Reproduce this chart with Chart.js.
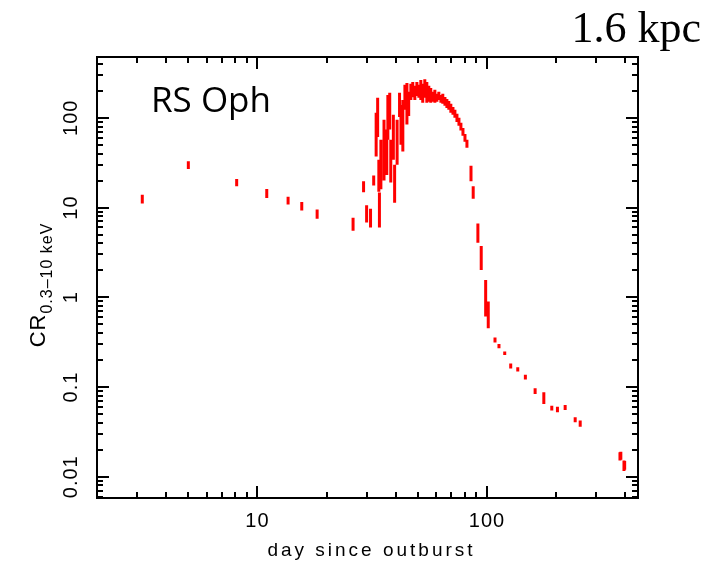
<!DOCTYPE html>
<html>
<head>
<meta charset="utf-8">
<script src="https://cdn.jsdelivr.net/npm/chart.js@4.4.1/dist/chart.umd.min.js"></script>
<style>
  body { margin: 0; background: #fff; }
</style>
</head>
<body>
<canvas id="myChart" width="721" height="563"></canvas>
<script>
// each observation is drawn as a vertical bar from crLo to crHi
var day = [3.15, 5.0, 8.12, 10.98, 13.6, 15.6, 18.2, 26.1, 29.0, 29.9, 31.1, 32.1,
  32.9, 33.4, 33.8, 34.0, 34.5, 35.6, 36.6, 37.0, 37.7, 38.1, 39.1, 39.6, 40.6, 41.6, 42.2, 43.0, 43.9, 44.8,
  45.6, 46.6, 47.5, 48.5, 49.5, 50.5, 51.5, 52.5, 53.6, 54.7, 55.8, 56.9, 58.1, 59.3, 60.5, 61.7,
  63.0, 64.2, 65.6, 66.9, 68.2, 69.6, 71.1, 72.5, 74.0, 75.5, 77.0, 78.6, 80.2, 81.8,
  85.2, 87.1, 91.3, 94.4, 98.7, 101.3, 108.4, 112.8, 119.5, 126.9, 136.2, 147.0, 162.1, 176.9,
  191.6, 202.8, 219.1, 242.3, 254.8, 379.7, 383.0, 395.3, 398.0];
var crLo = [11.1, 26.9, 17.3, 12.8, 10.8, 9.26, 7.5, 5.5, 14.8, 6.8, 6.0, 17.6,
  37, 61, 15, 6.0, 16, 20, 23, 57, 74, 19, 34, 11.3, 30, 102, 50, 42, 123, 84,
  105, 158, 170, 158, 175, 167, 158, 147, 167, 147, 151, 147, 151, 147, 151, 158,
  147, 143, 136, 129, 123, 114, 108, 100, 90, 81.5, 72, 63, 54, 46.4,
  19.6, 12.5, 4.05, 2.01, 0.61, 0.453, 0.314, 0.271, 0.227, 0.161, 0.149, 0.121, 0.0836, 0.0647,
  0.0546, 0.0524, 0.0555, 0.0406, 0.0362, 0.0152, 0.0155, 0.0116, 0.012];
var crHi = [13.9, 32.7, 20.8, 16.1, 13.2, 11.5, 9.5, 7.7, 19.6, 10.6, 9.7, 22.7,
  114, 167, 34, 14.7, 57, 95, 74, 180, 190, 57, 108, 30, 95, 190, 139, 158, 233, 245,
  195, 239, 251, 227, 251, 233, 264, 239, 269, 251, 227, 215, 195, 205, 185, 195,
  180, 185, 171, 162, 154, 143, 132, 123, 111, 100, 88, 77, 66, 57,
  29.3, 17.3, 6.64, 3.72, 1.56, 0.896, 0.357, 0.301, 0.249, 0.183, 0.166, 0.137, 0.0968, 0.0873,
  0.0620, 0.0604, 0.0631, 0.0461, 0.0423, 0.0188, 0.019, 0.0152, 0.015];

var xLabels = [10, 100];
var yLabels = [0.01, 0.1, 1, 10, 100];
var xMin = 2, xMax = 455;
var yMin = 0.0058, yMax = 476;

var pts = [];
for (var i = 0; i < day.length; i++) {
  pts.push({x: day[i], y: crLo[i]});
  pts.push({x: day[i], y: crHi[i]});
  pts.push({x: day[i], y: null});
}

// all 1..9 x 10^k values inside a range, for the minor ticks
function logTicks(lo, hi) {
  var out = [];
  for (var k = Math.floor(Math.log10(lo)); k <= Math.ceil(Math.log10(hi)); k++) {
    for (var m = 1; m <= 9; m++) {
      var v = m * Math.pow(10, k);
      if (v >= lo * 0.999 && v <= hi * 1.001) out.push(v);
    }
  }
  return out;
}

var framePlugin = {
  id: 'frame',
  afterDraw: function(chart) {
    var ctx = chart.ctx;
    var a = chart.chartArea;
    var xs = chart.scales.x, ys = chart.scales.y;
    ctx.save();
    ctx.strokeStyle = '#000';
    ctx.lineWidth = 2;
    ctx.strokeRect(a.left, a.top, a.right - a.left, a.bottom - a.top);

    ctx.beginPath();
    logTicks(xMin, xMax).forEach(function(v) {
      var px = Math.round(xs.getPixelForValue(v));
      var len = xLabels.indexOf(v) >= 0 ? 12 : 6;
      ctx.moveTo(px, a.bottom); ctx.lineTo(px, a.bottom - len);
      ctx.moveTo(px, a.top); ctx.lineTo(px, a.top + len);
    });
    logTicks(yMin, yMax).forEach(function(v) {
      var py = Math.round(ys.getPixelForValue(v));
      var len = yLabels.indexOf(v) >= 0 ? 12 : 6;
      ctx.moveTo(a.left, py); ctx.lineTo(a.left + len, py);
      ctx.moveTo(a.right, py); ctx.lineTo(a.right - len, py);
    });
    ctx.stroke();

    ctx.fillStyle = '#000';
    ctx.font = "20px 'Liberation Sans'";
    ctx.letterSpacing = '1px';
    ctx.textAlign = 'center';
    ctx.textBaseline = 'top';
    xLabels.forEach(function(v) {
      ctx.fillText(String(v), xs.getPixelForValue(v), 511);
    });
    yLabels.forEach(function(v) {
      ctx.save();
      ctx.translate(71, ys.getPixelForValue(v));
      ctx.rotate(-Math.PI / 2);
      ctx.textBaseline = 'middle';
      ctx.fillText(String(v), 0, 0);
      ctx.restore();
    });

    // axis titles
    ctx.font = "19px 'Liberation Sans'";
    ctx.letterSpacing = '3px';
    ctx.textBaseline = 'alphabetic';
    ctx.fillText('day since outburst', (a.left + a.right) / 2 + 4, 556);

    ctx.save();
    ctx.translate(45, 285);
    ctx.rotate(-Math.PI / 2);
    ctx.textAlign = 'left';
    ctx.letterSpacing = '1px';
    ctx.font = "22px 'Liberation Sans'";
    var w1 = ctx.measureText('CR').width;
    ctx.font = "16px 'Liberation Sans'";
    var w2 = ctx.measureText('0.3\u201310 keV').width;
    var x0 = -(w1 + w2) / 2;
    ctx.font = "22px 'Liberation Sans'";
    ctx.fillText('CR', x0, 0);
    ctx.font = "16px 'Liberation Sans'";
    ctx.fillText('0.3\u201310 keV', x0 + w1, 7);
    ctx.restore();

    ctx.letterSpacing = '0px';
    ctx.font = "35px 'Open Sans'";
    ctx.textAlign = 'left';
    ctx.fillText('RS Oph', 151, 112);

    ctx.font = "44px 'Liberation Serif'";
    ctx.textAlign = 'right';
    ctx.fillText('1.6 kpc', 701, 42);
    ctx.restore();
  }
};

var ctx = document.getElementById('myChart').getContext('2d');
var myChart = new Chart(ctx, {
  type: 'scatter',
  data: {
    datasets: [{
      data: pts,
      showLine: true,
      spanGaps: false,
      borderColor: '#ff0000',
      borderWidth: 3,
      pointRadius: 0,
      pointHoverRadius: 0
    }]
  },
  options: {
    responsive: false,
    animation: false,
    devicePixelRatio: 1,
    layout: { padding: { top: 57, right: 83, left: 0, bottom: 0 } },
    plugins: { legend: { display: false }, tooltip: { enabled: false } },
    scales: {
      x: {
        type: 'logarithmic', min: xMin, max: xMax,
        grid: { display: false }, border: { display: false },
        ticks: { display: false },
        afterFit: function(s) { s.height = 65; }
      },
      y: {
        type: 'logarithmic', min: yMin, max: yMax,
        grid: { display: false }, border: { display: false },
        ticks: { display: false },
        afterFit: function(s) { s.width = 97; }
      }
    }
  },
  plugins: [framePlugin]
});
</script>
</body>
</html>
